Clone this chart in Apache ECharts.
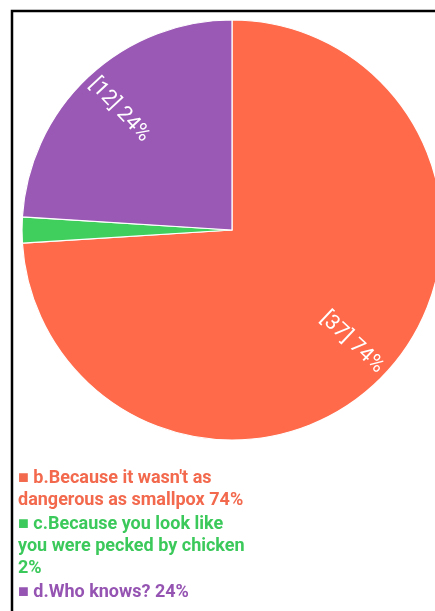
<!DOCTYPE html>
<html>
<head>
<meta charset="utf-8">
<script src="https://cdn.jsdelivr.net/npm/echarts@6/dist/echarts.min.js"></script>
<style>
  html, body { margin: 0; padding: 0; background: #fff; }
  #chart { width: 435px; height: 611px; }
</style>
</head>
<body>
<div id="chart"></div>
<script>
// Answer options and vote counts
const categories = [
  "b.Because it wasn't as dangerous as smallpox",
  "c.Because you look like you were pecked by chicken",
  "d.Who knows?"
];
const votes = [37, 1, 12];
const colors = ['#FF6A4B', '#40CF5C', '#9B59B6'];
const legendColors = ['#F2694D', '#3CC95B', '#9554B2'];

const total = votes.reduce((a, b) => a + b, 0);
const pct = v => Math.round(v / total * 100);

const pieData = categories.map((name, i) => ({
  name: name,
  value: votes[i],
  itemStyle: { color: colors[i] }
}));

const chart = echarts.init(document.getElementById('chart'), null, { renderer: 'canvas' });

chart.setOption({
  animation: false,
  graphic: [{
    type: 'polyline',
    shape: { points: [[12, 611], [12, 11], [435, 11]] },
    style: { stroke: '#000', lineWidth: 2.5, fill: null },
    silent: true,
    z: 100
  }],
  legend: {
    orient: 'vertical',
    left: 13,
    top: 467,
    icon: 'none',
    itemWidth: 0,
    itemHeight: 0,
    itemGap: 2,
    padding: 0,
    selectedMode: false,
    data: categories.map((name, i) => ({
      name: name,
      textStyle: { color: legendColors[i] }
    })),
    formatter: name => {
      const i = categories.indexOf(name);
      return '\u25A0 ' + name + ' ' + pct(votes[i]) + '%';
    },
    textStyle: {
      fontFamily: 'Roboto',
      fontWeight: 'bold',
      fontSize: 18,
      lineHeight: 22,
      width: 245,
      overflow: 'break',
      padding: 0
    }
  },
  series: [
    {
      type: 'pie',
      center: [232, 230],
      radius: [0, 210],
      startAngle: 90,
      clockwise: true,
      avoidLabelOverlap: false,
      itemStyle: { borderColor: '#fff', borderWidth: 1.2 },
      label: { show: false },
      labelLine: { show: false },
      emphasis: { disabled: true },
      data: pieData
    },
    {
      // transparent ring that carries the value labels further out
      type: 'pie',
      center: [232, 230],
      radius: [113, 210],
      startAngle: 90,
      clockwise: true,
      silent: true,
      avoidLabelOverlap: false,
      minShowLabelAngle: 12,
      itemStyle: { color: 'rgba(0,0,0,0)', borderWidth: 0 },
      label: {
        show: true,
        position: 'inside',
        rotate: 'radial',
        formatter: p => '[' + p.value + '] ' + pct(p.value) + '%',
        color: '#fff',
        fontFamily: 'Roboto',
        fontSize: 21
      },
      labelLine: { show: false },
      emphasis: { disabled: true },
      data: pieData.map(d => ({ name: d.name, value: d.value }))
    }
  ]
});
</script>
</body>
</html>
